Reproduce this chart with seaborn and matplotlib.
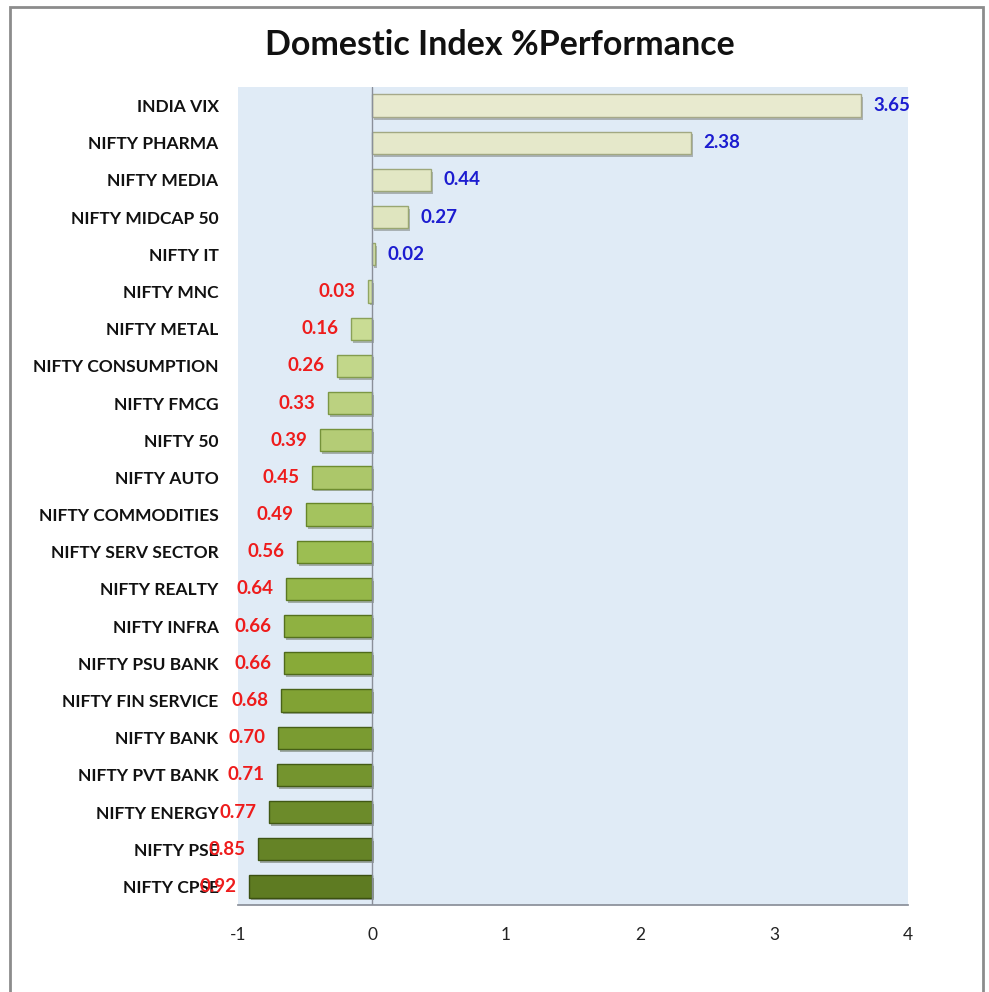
import numpy as np
import pandas as pd
import seaborn as sns
import matplotlib.pyplot as plt
import matplotlib.patheffects as pe
from matplotlib.patches import Rectangle

# dados do gráfico
indices = ["INDIA VIX", "NIFTY PHARMA", "NIFTY MEDIA", "NIFTY MIDCAP 50", "NIFTY IT",
           "NIFTY MNC", "NIFTY METAL", "NIFTY CONSUMPTION", "NIFTY FMCG", "NIFTY 50",
           "NIFTY AUTO", "NIFTY COMMODITIES", "NIFTY SERV SECTOR", "NIFTY REALTY",
           "NIFTY INFRA", "NIFTY PSU BANK", "NIFTY FIN SERVICE", "NIFTY BANK",
           "NIFTY PVT BANK", "NIFTY ENERGY", "NIFTY PSE", "NIFTY CPSE"]
performance = [3.65, 2.38, 0.44, 0.27, 0.02, -0.03, -0.16, -0.26, -0.33, -0.39,
               -0.45, -0.49, -0.56, -0.64, -0.66, -0.66, -0.68, -0.70, -0.71,
               -0.77, -0.85, -0.92]
x_ticks = [-1, 0, 1, 2, 3, 4]

df = pd.DataFrame({'Index': indices, 'Perf': performance})

sns.set_theme(style='white')
plt.rcParams['font.family'] = ['Lato', 'DejaVu Sans']

# cores: do bege claro ao verde oliva
cores = sns.blend_palette(['#e8eacf', '#dfe5bf', '#c9dc94', '#b4cc76', '#9cbe52',
                           '#88aa38', '#74942e', '#5e7b22'], n_colors=len(indices))
bordas = sns.blend_palette(['#a6a98a', '#8fa560', '#6a8a2a', '#4a6418', '#3b5012'],
                           n_colors=len(indices))

fig = plt.figure(figsize=(9.89, 9.92), dpi=100)
ax = fig.add_axes([238 / 989, 87 / 992, 670 / 989, 818 / 992])
ax.set_facecolor('#e0ebf6')

sns.barplot(data=df, x='Perf', y='Index', hue='Index', palette=cores, legend=False,
            orient='h', width=0.6, saturation=1, ax=ax, zorder=3)

for bar, borda in zip(ax.patches, bordas):
    bar.set_edgecolor(borda)
    bar.set_linewidth(1.0)
    bar.set_path_effects([pe.SimplePatchShadow(offset=(1.5, -2), alpha=0.35), pe.Normal()])

# rótulos de valores
for cont in ax.containers:
    vals = cont.datavalues
    txts = ax.bar_label(cont, labels=[f'{abs(v):.2f}' for v in vals], padding=9,
                        fontsize=13.5, fontweight='bold')
    for t, v in zip(txts, vals):
        t.set_color('#1c1cd0' if v >= 0 else '#ee1c1c')

ax.axvline(0, color='#8a8f99', lw=1, zorder=4)
ax.set_xlim(-1, 4)
ax.set_ylim(21.5, -0.5)
ax.set_xticks(x_ticks)
ax.set_xticklabels([str(v) for v in x_ticks], fontsize=12.5, color='#222222')
ax.tick_params(axis='x', length=0, pad=16)
ax.tick_params(axis='y', length=0, pad=14, labelsize=12.5)
for lbl in ax.get_yticklabels():
    lbl.set_fontweight('bold')
    lbl.set_color('#111111')
ax.set_xlabel('')
ax.set_ylabel('')
for side in ['top', 'right', 'left']:
    ax.spines[side].set_visible(False)
ax.spines['bottom'].set_color('#8a8f99')

fig.text(500 / 989, 1 - 45 / 992, 'Domestic Index %Performance', ha='center', va='center',
         fontsize=24.5, fontweight='bold', color='#111111')

# moldura do gráfico
fig.patches.append(Rectangle((10 / 989, -0.01), 973 / 989, 1.01 - 7 / 992, transform=fig.transFigure,
                             fill=False, edgecolor='#8c8c8c', lw=2))

fig.savefig('out.png', dpi=100)
